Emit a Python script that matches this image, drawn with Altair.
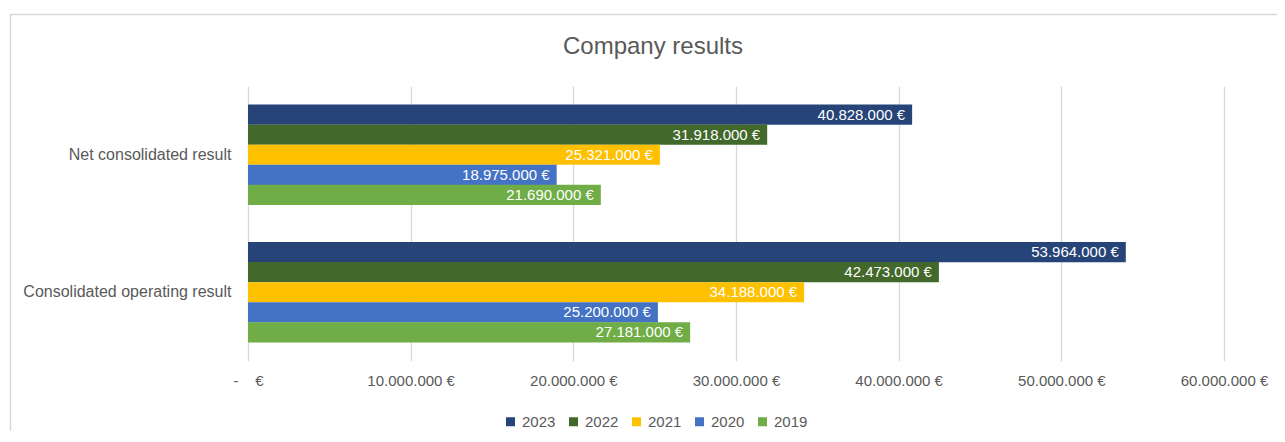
import altair as alt
import pandas as pd

metrics = ["Net consolidated result", "Consolidated operating result"]
years = ["2023", "2022", "2021", "2020", "2019"]
net_result = [40828000, 31918000, 25321000, 18975000, 21690000]
operating_result = [53964000, 42473000, 34188000, 25200000, 27181000]
colors = ["#264478", "#43682B", "#FFC000", "#4472C4", "#70AD47"]
tick_values = [0, 10000000, 20000000, 30000000, 40000000, 50000000, 60000000]
chart_title = "Company results"

rows = []
for metric, vals in zip(metrics, [net_result, operating_result]):
    for y, v in zip(years, vals):
        rows.append({"metric": metric, "year": y, "value": v,
                     "label": f"{v:,}".replace(",", ".") + " €"})
df = pd.DataFrame(rows)

FONT = "Liberation Sans"
GRAY = "#595959"

y_enc = alt.Y("metric:N", sort=metrics, title=None,
              scale=alt.Scale(paddingInner=0.27, paddingOuter=0.135),
              axis=alt.Axis(ticks=False, domain=False, grid=False, labelFontSize=16,
                            labelColor=GRAY, labelFont=FONT, labelPadding=17,
                            labelLimit=400))
yoff = alt.YOffset("year:N", sort=years, scale=alt.Scale(paddingInner=0, paddingOuter=0))
x_enc = alt.X("value:Q", title=None,
              scale=alt.Scale(domain=[0, 60000000], nice=False),
              axis=alt.Axis(values=tick_values, ticks=False, domain=False,
                            grid=True, gridColor="#D9D9D9", gridWidth=1.3,
                            labelFontSize=15, labelColor=GRAY, labelFont=FONT,
                            labelPadding=12, labelFlush=False, labelOverlap=False,
                            labelBound=False,
                            labelExpr="datum.value == 0 ? '-\u00a0\u00a0\u00a0\u00a0€' : replace(replace(replace(format(datum.value, ',d'), ',', '.'), ',', '.'), ',', '.') + ' €'"))

bars = alt.Chart(df).mark_bar(size=20.2).encode(
    x=x_enc, y=y_enc, yOffset=yoff,
    color=alt.Color("year:N", sort=years,
                    scale=alt.Scale(domain=years, range=colors),
                    legend=alt.Legend(title=None, orient="none", direction="horizontal",
                                      legendX=255, legendY=328,
                                      symbolType="square", symbolSize=81,
                                      symbolStrokeWidth=0,
                                      labelFontSize=15, labelColor=GRAY, labelFont=FONT,
                                      labelOffset=4, columnPadding=10))
)

labels = alt.Chart(df).mark_text(align="right", baseline="middle", dx=-7,
                                 color="white", fontSize=15, font=FONT).encode(
    x="value:Q", y=alt.Y("metric:N", sort=metrics), yOffset=alt.YOffset("year:N", sort=years),
    text="label:N")

frame = alt.Chart(pd.DataFrame({"a": [0]})).mark_rect(
    filled=False, stroke="#D9D9D9", strokeWidth=1.5).encode(
    x=alt.value(-237.5), x2=alt.value(1100), y=alt.value(-71.5), y2=alt.value(360))

title = alt.Chart(pd.DataFrame({"t": [chart_title]})).mark_text(
    align="center", baseline="alphabetic", fontSize=24, font=FONT, color=GRAY).encode(
    x=alt.value(405), y=alt.value(-32), text="t:N")

chart = alt.layer(frame, bars, labels, title).properties(
    width=976, height=275,
    autosize=alt.AutoSizeParams(type="none"),
    padding={"left": 240, "top": 78, "right": 53, "bottom": 70},
).configure(background="white").configure_view(stroke=None)

chart.save("out.html", embed_options={"renderer": "svg", "actions": False})
